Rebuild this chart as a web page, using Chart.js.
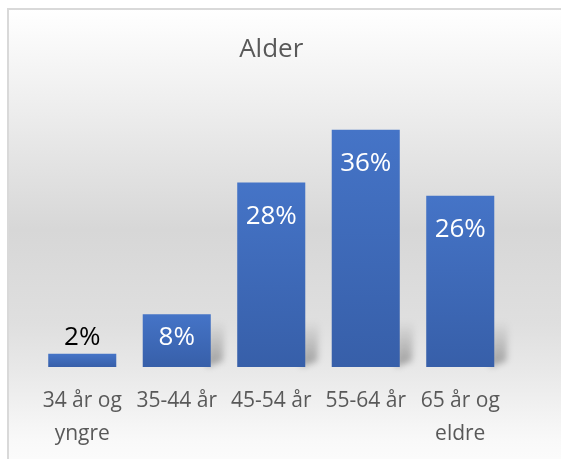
<!DOCTYPE html>
<html>
<head>
<meta charset="utf-8">
<script src="https://cdn.jsdelivr.net/npm/chart.js@4/dist/chart.umd.min.js"></script>
<style>
html,body{margin:0;padding:0;background:#fff;}
#wrap{width:561px;height:459px;}
</style>
</head>
<body>
<div id="wrap"><canvas id="c" width="561" height="459"></canvas></div>
<script>
const titleText = 'Alder';
const categories = [['34 år og','yngre'], '35-44 år', '45-54 år', '55-64 år', ['65 år og','eldre']];
const values = [2, 8, 28, 36, 26];

const bgPlugin = {
  id: 'bg',
  beforeDraw(chart) {
    const ctx = chart.ctx;
    ctx.save();
    ctx.fillStyle = '#ffffff';
    ctx.fillRect(0, 0, chart.width, chart.height);
    const g = ctx.createLinearGradient(0, 9, 0, chart.height);
    g.addColorStop(0, '#ffffff');
    g.addColorStop(0.2, '#efefef');
    g.addColorStop(0.49, '#d7d7d7');
    g.addColorStop(0.7, '#dfdfdf');
    g.addColorStop(0.8, '#e8e8e8');
    g.addColorStop(0.96, '#f9f9f9');
    g.addColorStop(1, '#fbfbfb');
    ctx.fillStyle = g;
    ctx.fillRect(8, 9, chart.width - 8, chart.height - 9);
    ctx.strokeStyle = '#d9d9d9';
    ctx.lineWidth = 2;
    ctx.beginPath();
    ctx.moveTo(8, chart.height);
    ctx.lineTo(8, 9);
    ctx.lineTo(chart.width, 9);
    ctx.stroke();
    ctx.restore();
  }
};

const shadowPlugin = {
  id: 'barShadow',
  beforeDatasetsDraw(chart) {
    const ctx = chart.ctx;
    const meta = chart.getDatasetMeta(0);
    ctx.save();
    ctx.filter = 'blur(3px)';
    meta.data.forEach(el => {
      const right = el.x + el.width / 2;
      const h = Math.min(46, el.base - el.y);
      if (!(h >= 20)) return;
      const g = ctx.createLinearGradient(0, el.base, 0, el.base - h);
      g.addColorStop(0, 'rgba(0,0,0,0.32)');
      g.addColorStop(1, 'rgba(0,0,0,0)');
      ctx.fillStyle = g;
      ctx.beginPath();
      ctx.moveTo(right - 4, el.base);
      ctx.lineTo(right + 12, el.base - 6);
      ctx.lineTo(right + 14, el.base - h);
      ctx.lineTo(right - 4, el.base - h);
      ctx.closePath();
      ctx.fill();
    });
    ctx.restore();
  }
};

const labelPlugin = {
  id: 'valLabels',
  afterDatasetsDraw(chart) {
    const ctx = chart.ctx;
    const meta = chart.getDatasetMeta(0);
    ctx.save();
    ctx.font = '26px "Open Sans"';
    ctx.textAlign = 'center';
    ctx.textBaseline = 'middle';
    meta.data.forEach((el, i) => {
      const txt = values[i] + '%';
      const h = el.base - el.y;
      if (h > 40) {
        ctx.fillStyle = '#ffffff';
        ctx.fillText(txt, el.x, el.y + Math.min(34, h * 0.45));
      } else {
        ctx.fillStyle = '#000000';
        ctx.fillText(txt, el.x, el.y - 16);
      }
    });
    ctx.restore();
  }
};

new Chart(document.getElementById('c'), {
  type: 'bar',
  data: {
    labels: categories,
    datasets: [{
      data: values,
      backgroundColor(c) {
        const chart = c.chart;
        const y = chart.scales && chart.scales.y;
        if (!y || c.dataIndex === undefined) return '#4472c4';
        const top = y.getPixelForValue(values[c.dataIndex]);
        const base = y.getPixelForValue(0);
        if (!isFinite(top) || !isFinite(base) || top === base) return '#4472c4';
        const g = chart.ctx.createLinearGradient(0, top, 0, base);
        g.addColorStop(0, '#4574c7');
        g.addColorStop(1, '#375fa9');
        return g;
      },
      borderWidth: 0,
      categoryPercentage: 0.8,
      barPercentage: 0.9
    }]
  },
  options: {
    responsive: false,
    animation: false,
    devicePixelRatio: 1,
    layout: { padding: { top: 10, left: 35, right: 53.5, bottom: 10 } },
    plugins: {
      legend: { display: false },
      tooltip: { enabled: false },
      title: {
        display: true,
        text: titleText,
        color: '#595959',
        font: { family: '"Open Sans"', size: 26, weight: 'normal', lineHeight: 1.2 },
        padding: { top: 24.4, bottom: 37.8 }
      }
    },
    scales: {
      x: {
        grid: { display: false },
        border: { display: false },
        afterFit(scale) { scale.height = 82; },
        ticks: {
          color: '#595959',
          font: { family: '"Open Sans"', size: 21, lineHeight: 1.57 },
          padding: 10,
          maxRotation: 0,
          autoSkip: false
        }
      },
      y: {
        display: false,
        min: 0,
        max: 40
      }
    }
  },
  plugins: [bgPlugin, shadowPlugin, labelPlugin]
});
</script>
</body>
</html>
